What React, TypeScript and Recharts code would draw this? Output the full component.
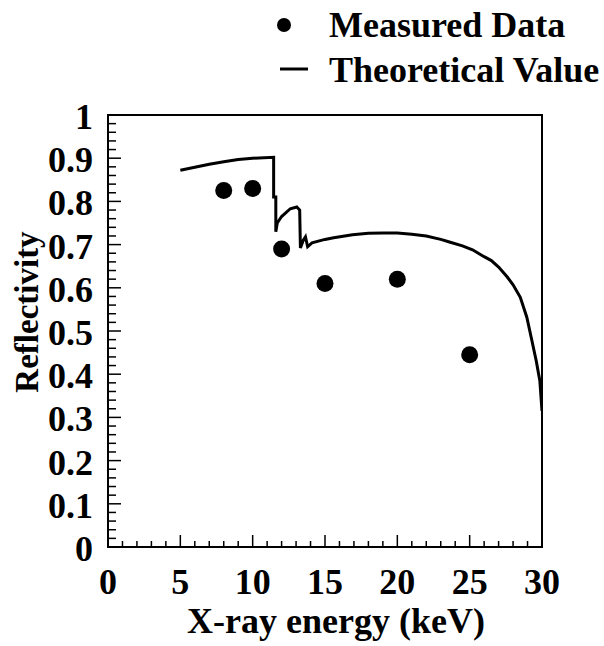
import React from 'react';
import {
  ComposedChart,
  Line,
  Scatter,
  XAxis,
  YAxis,
  ReferenceArea,
} from 'recharts';

// Measured reflectivity points
const measuredEnergy = [8, 10, 12, 15, 20, 25];
const measuredReflectivity = [0.825, 0.83, 0.69, 0.61, 0.62, 0.445];

// Theoretical curve
const theoryEnergy = [
  5, 6, 7, 8, 9, 10, 11.45, 11.45, 11.6, 11.6, 11.7, 12, 12.6, 13.05, 13.25, 13.3,
  13.5, 13.65, 13.8, 14.1, 15, 15.6, 16.9, 18, 19, 20, 21, 22, 23, 23.6, 24.5,
  25.2, 26, 26.5, 27, 27.6, 28, 28.5, 28.95, 29.3, 29.6, 29.85, 30,
];
const theoryReflectivity = [
  0.872, 0.879, 0.886, 0.892, 0.897, 0.9, 0.902, 0.81, 0.81, 0.73, 0.75, 0.765,
  0.783, 0.787, 0.78, 0.692, 0.71, 0.718, 0.695, 0.704, 0.712, 0.716, 0.723,
  0.726, 0.727, 0.727, 0.724, 0.72, 0.712, 0.706, 0.697, 0.688, 0.672, 0.663,
  0.648, 0.625, 0.607, 0.578, 0.532, 0.478, 0.431, 0.385, 0.315,
];

const xMajorLabels = ['0', '5', '10', '15', '20', '25', '30'];
const yMajorLabels = ['0', '0.1', '0.2', '0.3', '0.4', '0.5', '0.6', '0.7', '0.8', '0.9', '1'];

// minor tick positions (every 1 keV, every 0.02)
const xTicks = Array.from({ length: 31 }, (_, i) => i);
const yTicks = Array.from({ length: 51 }, (_, i) => i / 50);

const measured = measuredEnergy.map((x, i) => ({ x, y: measuredReflectivity[i] }));
const theory = theoryEnergy.map((x, i) => ({ x, y: theoryReflectivity[i] }));

const FONT = '"Liberation Serif", "Times New Roman", serif';

const YTick = (props: any) => {
  const { x, y, payload } = props;
  const v = payload.value;
  const idx = Math.round(v * 10);
  const major = Math.abs(v * 10 - idx) < 1e-6;
  return (
    <g>
      <line x1={x} y1={y} x2={x + (major ? 13 : 8)} y2={y} stroke="#000" strokeWidth={1.5} />
      {major && (
        <text x={x - 15} y={y + 14} textAnchor="end" fontFamily={FONT} fontWeight="bold" fontSize={36} fill="#000">
          {yMajorLabels[idx]}
        </text>
      )}
    </g>
  );
};

const XTick = (props: any) => {
  const { x, y, payload } = props;
  const v = payload.value;
  const major = v % 5 === 0;
  return (
    <g>
      <line x1={x} y1={y} x2={x} y2={y - (major ? 12 : 6)} stroke="#000" strokeWidth={1.5} />
      {major && (
        <text x={x} y={y + 47} textAnchor="middle" fontFamily={FONT} fontWeight="bold" fontSize={36} fill="#000">
          {xMajorLabels[v / 5]}
        </text>
      )}
    </g>
  );
};

const Dot = (props: any) => <circle cx={props.cx} cy={props.cy} r={8.5} fill="#000" />;

export default function App() {
  return (
    <div style={{ position: 'absolute', left: 0, top: 0, width: 604, height: 646, background: '#fff' }}>
      <ComposedChart
        width={604}
        height={646}
        margin={{ top: 115, right: 62, bottom: 39, left: 48 }}
      >
        <XAxis
          dataKey="x"
          type="number"
          domain={[0, 30]}
          ticks={xTicks}
          interval={0}
          height={60}
          tickSize={0}
          tickMargin={0}
          tickLine={false}
          axisLine={false}
          tick={(p: any) => <XTick {...p} />}
          allowDataOverflow
        />
        <YAxis
          type="number"
          domain={[0, 1]}
          ticks={yTicks}
          interval={0}
          width={60}
          tickSize={0}
          tickMargin={0}
          tickLine={false}
          axisLine={false}
          tick={(p: any) => <YTick {...p} />}
          allowDataOverflow
        />
        <ReferenceArea x1={0} x2={30} y1={0} y2={1} fill="none" stroke="#000" strokeWidth={2} ifOverflow="visible" />
        <Line
          data={theory}
          dataKey="y"
          type="linear"
          stroke="#000"
          strokeWidth={3}
          dot={false}
          activeDot={false}
          isAnimationActive={false}
        />
        <Scatter data={measured} dataKey="y" fill="#000" shape={<Dot />} isAnimationActive={false} />
      </ComposedChart>
      <svg
        width={604}
        height={646}
        style={{ position: 'absolute', left: 0, top: 0, pointerEvents: 'none' }}
      >
        <circle cx={284} cy={25} r={7} fill="#000" />
        <line x1={280} y1={69} x2={308} y2={69} stroke="#000" strokeWidth={3} />
        <text x={329} y={37} fontFamily={FONT} fontWeight="bold" fontSize={36} fill="#000">
          Measured Data
        </text>
        <text x={329} y={82} fontFamily={FONT} fontWeight="bold" fontSize={36} fill="#000">
          Theoretical Value
        </text>
        <text
          transform="translate(38,312) rotate(-90)"
          textAnchor="middle"
          fontFamily={FONT}
          fontWeight="bold"
          fontSize={33}
          fill="#000"
        >
          Reflectivity
        </text>
        <text x={336} y={633} textAnchor="middle" fontFamily={FONT} fontWeight="bold" fontSize={36} fill="#000">
          X-ray energy (keV)
        </text>
      </svg>
    </div>
  );
}
